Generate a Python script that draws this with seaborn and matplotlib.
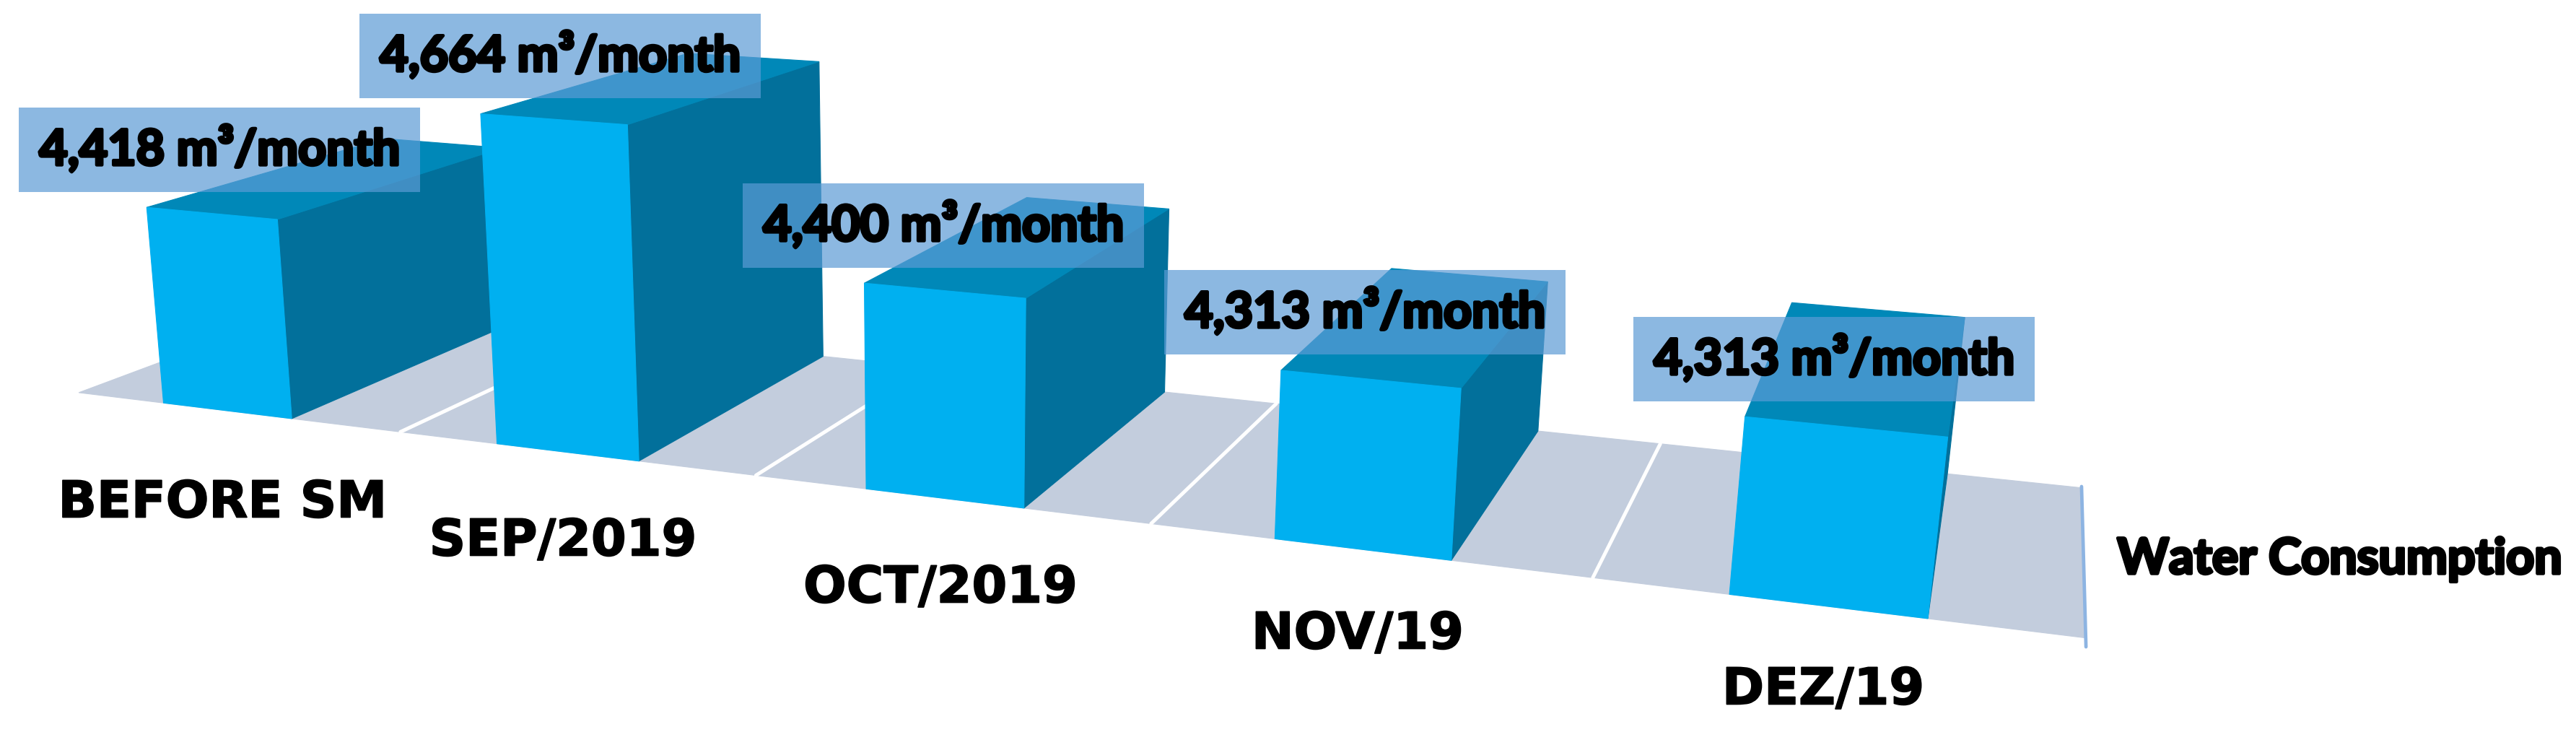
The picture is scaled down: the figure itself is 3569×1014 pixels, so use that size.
import numpy as np
import pandas as pd
import matplotlib
matplotlib.use("Agg")
import matplotlib.pyplot as plt
import matplotlib.patheffects as pe
import seaborn as sns

categories = ["BEFORE SM", "SEP/2019", "OCT/2019", "NOV/19", "DEZ/19"]
values = [4418, 4664, 4400, 4313, 4313]
series_name = "Water Consumption"
value_unit = "m³/month"

# layout only: centres of the value boxes and of the category names, in pixels
box_centres = [(304, 207), (776, 77), (1307, 312), (1891, 432), (2541, 497)]
cat_centres = [(308, 697), (780, 750), (1303, 815), (1881, 879), (2526, 956)]
bar_shift = [-0.007, 0.002, 0.01, 0.012, 0.007]

BASE = 4000
BAR_LEFT, BAR_RIGHT = 0.28, 0.68
FLOOR_END = 4.992

# camera of the 3d look, (slot, depth, height) -> pixels
CAMERA = np.array([
    [419.1103, 390.9995, -6.507827, 109.1704],
    [25.9016, -65.76992, -65.40058, 543.8624],
    [-0.04771984, 0.1370975, -0.004960004, 1.0],
])


def project(x, y, z=0.0):
    q = CAMERA @ np.array([x, y, z, 1.0])
    return q[0] / q[2], q[1] / q[2]


def face(ax, corners, color, zorder):
    xy = np.array([project(*c) for c in corners])
    ax.fill(xy[:, 0], xy[:, 1], color=color, lw=0.8, zorder=zorder)


sns.set_theme(style="white")
plt.rcParams["font.family"] = ["Lato", "DejaVu Sans"]

fig = plt.figure(figsize=(35.69, 10.14), dpi=100)
ax = fig.add_axes([0, 0, 1, 1])

# floor
n = len(categories)
face(ax, [(0, 0), (FLOOR_END, 0), (FLOOR_END, 1), (0, 1)], "#C3CDDD", 1)

# slot separators and the axis line on the right
seps = pd.DataFrame(
    [dict(slot=i, px=project(i, d)[0], py=project(i, d)[1]) for i in range(1, n) for d in (0, 1)]
)
sns.lineplot(data=seps, x="px", y="py", units="slot", estimator=None, color="white",
             lw=3.6, ax=ax, zorder=2)
end = pd.DataFrame([dict(px=project(FLOOR_END, d)[0], py=project(FLOOR_END, d)[1]) for d in (-0.05, 1.01)])
sns.lineplot(data=end, x="px", y="py", estimator=None, color="#8DB4E2", lw=3.4, ax=ax,
             sort=False, zorder=2)

# bars
for i, v in enumerate(values):
    h = (v - BASE) / 100
    x0, x1 = i + BAR_LEFT + bar_shift[i], i + BAR_RIGHT + bar_shift[i]
    z = 3 + i
    face(ax, [(x1, 0, 0), (x1, 1, 0), (x1, 1, h), (x1, 0, h)], "#02709B", z)
    face(ax, [(x0, 0, h), (x1, 0, h), (x1, 1, h), (x0, 1, h)], "#0088B8", z)
    face(ax, [(x0, 0, 0), (x1, 0, 0), (x1, 0, h), (x0, 0, h)], "#00B0F0", z)

heavy = [pe.withStroke(linewidth=3.2, foreground="black")]
light = [pe.withStroke(linewidth=1.2, foreground="black")]
box_w, box_h = 556, 117
for v, (cx, cy) in zip(values, box_centres):
    ax.add_patch(plt.Rectangle((cx - box_w / 2, cy - box_h / 2), box_w, box_h,
                               facecolor="#5B9BD5", alpha=0.7, lw=0, zorder=10))
    ax.text(cx, cy, f"{v:,} {value_unit}", ha="center", va="center", fontsize=49,
            fontweight="bold", color="black", path_effects=heavy, zorder=11)

for name, (cx, cy) in zip(categories, cat_centres):
    ax.text(cx, cy, name, ha="center", va="center", fontsize=50.5, fontweight="bold",
            family=["DejaVu Sans"], color="black", path_effects=light, zorder=11)

ax.text(3241, 775, series_name, ha="center", va="center", fontsize=49, fontweight="bold",
        color="black", path_effects=heavy, zorder=11)

ax.set_xlim(0, 3569)
ax.set_ylim(1014, 0)
ax.set_axis_off()
fig.savefig("out.png", dpi=100)
